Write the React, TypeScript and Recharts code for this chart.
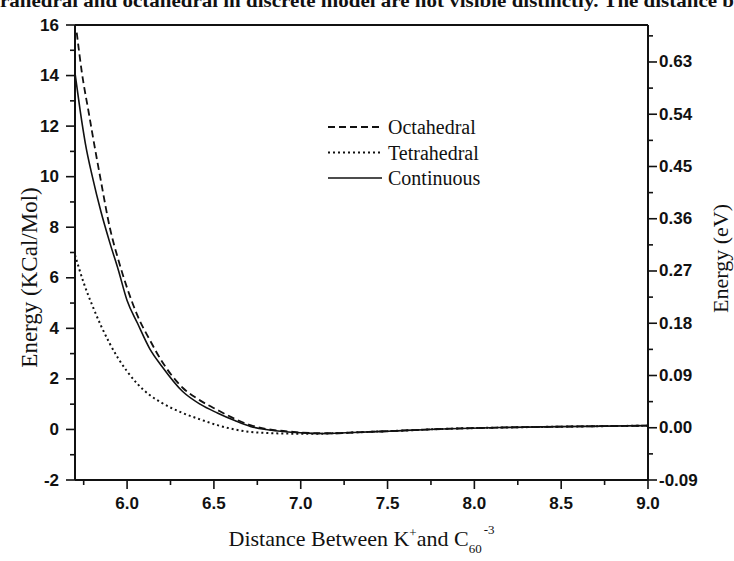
import React from "react";
import { LineChart, Line, XAxis, YAxis, ReferenceLine, Legend } from "recharts";

// ---- data ----
const contX = [5.70, 5.73, 5.76, 5.80, 5.85, 5.90, 5.95, 6.00, 6.06, 6.13, 6.20, 6.32, 6.42, 6.52, 6.62, 6.71, 6.80, 6.90, 7.00, 7.10, 7.20, 7.30, 7.50, 7.86, 8.20, 8.50, 9.00];
const contY = [14.1, 12.6, 11.3, 10.0, 8.6, 7.4, 6.3, 5.1, 4.2, 3.2, 2.5, 1.5, 1.0, 0.65, 0.35, 0.12, 0.0, -0.08, -0.13, -0.16, -0.15, -0.12, -0.07, 0.03, 0.08, 0.11, 0.15];

const octX = [5.71, 5.74, 5.78, 5.80, 5.85, 5.90, 5.95, 6.00, 6.06, 6.13, 6.20, 6.32, 6.42, 6.52, 6.62, 6.71, 6.80, 6.90, 7.00, 7.10, 7.20, 7.30, 7.50, 7.86, 8.20, 8.50, 9.00];
const octY = [15.7, 14.1, 12.5, 11.7, 9.8, 8.0, 6.7, 5.6, 4.5, 3.55, 2.7, 1.65, 1.15, 0.77, 0.42, 0.17, 0.02, -0.06, -0.12, -0.15, -0.15, -0.12, -0.07, 0.03, 0.08, 0.11, 0.15];

const tetX = [5.70, 5.75, 5.80, 5.85, 5.90, 5.95, 6.00, 6.06, 6.13, 6.20, 6.32, 6.42, 6.52, 6.62, 6.71, 6.80, 6.90, 7.00, 7.10, 7.20, 7.30, 7.50, 7.86, 8.20, 8.50, 9.00];
const tetY = [6.9, 5.8, 4.9, 4.1, 3.4, 2.8, 2.3, 1.8, 1.36, 1.05, 0.65, 0.4, 0.17, 0.0, -0.10, -0.14, -0.16, -0.17, -0.17, -0.15, -0.12, -0.07, 0.03, 0.08, 0.11, 0.15];

// ---- tick labels ----
const xTicks = [6.0, 6.5, 7.0, 7.5, 8.0, 8.5, 9.0];
const kcalTicks = [-2, 0, 2, 4, 6, 8, 10, 12, 14, 16];
const eVTicks = [-0.09, 0.0, 0.09, 0.18, 0.27, 0.36, 0.45, 0.54, 0.63];

const seriesNames = ["Octahedral", "Tetrahedral", "Continuous"];
const pageLine = "rahedral and octahedral in discrete model are not visible distinctly. The distance b";

const toPts = (xs: number[], ys: number[]) => xs.map((x, i) => ({ x, y: ys[i] }));
const octData = toPts(octX, octY);
const tetData = toPts(tetX, tetY);
const contData = toPts(contX, contY);

const xMinor = [5.75, ...xTicks.slice(0, -1).map((v) => v + 0.25)];
const xAll = [...xMinor, ...xTicks].sort((a, b) => a - b);
const kcalAll = [...kcalTicks, ...kcalTicks.slice(0, -1).map((v) => v + 1)].sort((a, b) => a - b);
const eVAll = [...eVTicks, ...eVTicks.map((v) => v + 0.045)].sort((a, b) => a - b);

const INK = "#111";
const TICK_FONT = "'Liberation Sans', Arial, sans-serif";
const SERIF = "'Liberation Serif', 'Times New Roman', serif";

const isIn = (arr: number[], v: number) => arr.some((a) => Math.abs(a - v) < 1e-6);

const XTick = (p: any) => {
  const { x, y, payload } = p;
  const major = isIn(xTicks, payload.value);
  return (
    <g>
      <line x1={x} y1={y} x2={x} y2={y + (major ? 9 : 5)} stroke={INK} strokeWidth={1.6} />
      {major && (
        <text x={x} y={y + 23} textAnchor="middle" dominantBaseline="central" fontFamily={TICK_FONT} fontWeight="bold" fontSize={17} fill={INK}>
          {payload.value.toFixed(1)}
        </text>
      )}
    </g>
  );
};

const LTick = (p: any) => {
  const { x, y, payload } = p;
  const major = isIn(kcalTicks, payload.value);
  return (
    <g>
      <line x1={x} y1={y} x2={x - (major ? 9 : 5)} y2={y} stroke={INK} strokeWidth={1.6} />
      {major && (
        <text x={x - 16} y={y} textAnchor="end" dominantBaseline="central" fontFamily={TICK_FONT} fontWeight="bold" fontSize={17} fill={INK}>
          {String(payload.value)}
        </text>
      )}
    </g>
  );
};

const RTick = (p: any) => {
  const { x, y, payload } = p;
  const major = isIn(eVTicks, payload.value);
  return (
    <g>
      <line x1={x} y1={y} x2={x + (major ? 9 : 5)} y2={y} stroke={INK} strokeWidth={1.6} />
      {major && (
        <text x={x + 11} y={y} textAnchor="start" dominantBaseline="central" fontFamily={TICK_FONT} fontWeight="bold" fontSize={17} fill={INK}>
          {(Math.abs(payload.value) < 1e-9 ? 0 : payload.value).toFixed(2)}
        </text>
      )}
    </g>
  );
};

const XTitle = (p: any) => {
  const vb = p.viewBox || {};
  const cx = vb.x + vb.width / 2;
  const cy = vb.y + 66;
  return (
    <text x={cx} y={cy} textAnchor="middle" fontFamily={SERIF} fontSize={22} fill={INK}>
      Distance Between K
      <tspan dy={-9} fontSize={13}>+</tspan>
      <tspan dy={9}>and C</tspan>
      <tspan dy={7} fontSize={13}>60</tspan>
      <tspan dy={-19} dx={2} fontSize={13}>-3</tspan>
    </text>
  );
};

const LTitle = (p: any) => {
  const vb = p.viewBox || {};
  const cx = vb.x + 29;
  const cy = vb.y + vb.height / 2 + 25;
  return (
    <text x={cx} y={cy} transform={`rotate(-90 ${cx} ${cy})`} textAnchor="middle" dominantBaseline="central" fontFamily={SERIF} fontSize={23} fill={INK}>
      Energy (KCal/Mol)
    </text>
  );
};

const RTitle = (p: any) => {
  const vb = p.viewBox || {};
  const cx = vb.x + 72;
  const cy = vb.y + vb.height / 2 + 6;
  return (
    <text x={cx} y={cy} transform={`rotate(-90 ${cx} ${cy})`} textAnchor="middle" dominantBaseline="central" fontFamily={SERIF} fontSize={22} fill={INK}>
      Energy (eV)
    </text>
  );
};

const styles: Record<string, { dash?: string; width: number }> = {
  Octahedral: { dash: "7 4", width: 1.8 },
  Tetrahedral: { dash: "2 3", width: 2 },
  Continuous: { width: 1.6 },
};

const LegendBox = () => (
  <svg width={210} height={80} style={{ overflow: "visible" }}>
    {seriesNames.map((n, i) => {
      const y = 14 + i * 25.5;
      return (
        <g key={n}>
          <line x1={2} x2={56} y1={y} y2={y} stroke={INK} strokeWidth={styles[n].width} strokeDasharray={styles[n].dash} />
          <text x={62} y={y} dominantBaseline="central" fontFamily={SERIF} fontSize={20} fill={INK}>
            {n}
          </text>
        </g>
      );
    })}
  </svg>
);

export default function App() {
  return (
    <div style={{ position: "absolute", left: 0, top: 0, width: 734, height: 561, background: "#fff", overflow: "hidden" }}>
      <svg width={734} height={14} style={{ position: "absolute", left: 0, top: 0 }}>
        <text x={0} y={7} textLength={734} lengthAdjust="spacingAndGlyphs" fontFamily={SERIF} fontWeight="bold" fontSize={18} fill={INK}>
          {pageLine}
        </text>
      </svg>
      <LineChart width={734} height={561} margin={{ top: 25, right: 0, bottom: 0, left: 0 }}>
        <XAxis
          dataKey="x"
          type="number"
          domain={[5.7, 9.0]}
          allowDataOverflow
          ticks={xAll}
          interval={0}
          tickSize={0}
          tickMargin={0}
          tickLine={false}
          tick={<XTick />}
          axisLine={{ stroke: INK, strokeWidth: 2 }}
          height={81}
          label={<XTitle />}
        />
        <YAxis
          yAxisId="left"
          type="number"
          domain={[-2, 16]}
          allowDataOverflow
          ticks={kcalAll}
          interval={0}
          tickSize={0}
          tickMargin={0}
          tickLine={false}
          tick={<LTick />}
          axisLine={{ stroke: INK, strokeWidth: 2 }}
          width={75}
          label={<LTitle />}
        />
        <YAxis
          yAxisId="right"
          orientation="right"
          type="number"
          domain={[-0.09, 0.6937]}
          allowDataOverflow
          ticks={eVAll}
          interval={0}
          tickSize={0}
          tickMargin={0}
          tickLine={false}
          tick={<RTick />}
          axisLine={{ stroke: INK, strokeWidth: 2 }}
          width={86}
          label={<RTitle />}
        />
        <ReferenceLine yAxisId="left" y={16} stroke={INK} strokeWidth={2} />
        <Legend
          layout="vertical"
          align="center"
          verticalAlign="middle"
          content={() => <LegendBox />}
          wrapperStyle={{ left: 326, top: 113, width: 210, height: 80 }}
        />
        <Line yAxisId="left" data={contData} dataKey="y" name="Continuous" type="monotone" stroke={INK} strokeWidth={1.6} dot={false} isAnimationActive={false} />
        <Line yAxisId="left" data={octData} dataKey="y" name="Octahedral" type="monotone" stroke={INK} strokeWidth={1.8} strokeDasharray="7 4" dot={false} isAnimationActive={false} />
        <Line yAxisId="left" data={tetData} dataKey="y" name="Tetrahedral" type="monotone" stroke={INK} strokeWidth={2} strokeDasharray="2 3" dot={false} isAnimationActive={false} />
      </LineChart>
    </div>
  );
}
